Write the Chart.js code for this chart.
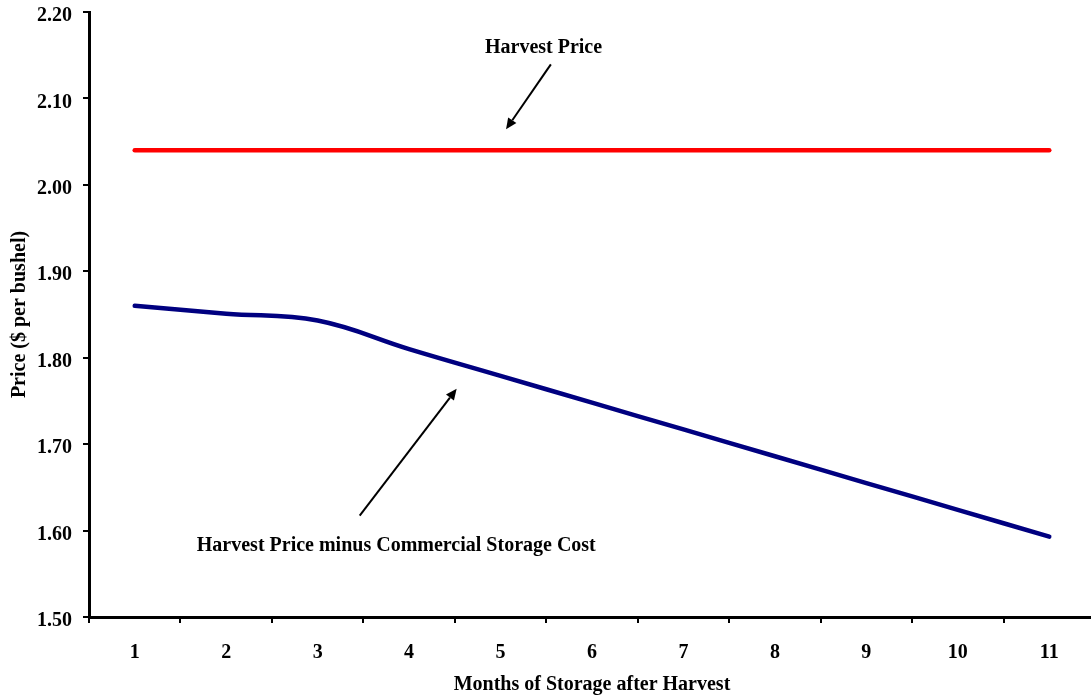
<!DOCTYPE html>
<html>
<head>
<meta charset="utf-8">
<script src="https://cdn.jsdelivr.net/npm/chart.js@4.4.1/dist/chart.umd.min.js"></script>
<style>
  html, body { margin: 0; padding: 0; background: #fff; overflow: hidden; }
  #wrap { position: relative; width: 1095px; height: 708px; margin-top: -11px; }
</style>
</head>
<body>
<div id="wrap"><canvas id="c"></canvas></div>
<script>
// ---- data ----
const months = ['1', '2', '3', '4', '5', '6', '7', '8', '9', '10', '11'];
const harvestPrice = [2.04, 2.04, 2.04, 2.04, 2.04, 2.04, 2.04, 2.04, 2.04, 2.04, 2.04];
const priceMinusStorage = [1.86, 1.851, 1.843, 1.81, 1.779, 1.748, 1.717, 1.686, 1.655, 1.624, 1.593];
const yTickValues = [1.5, 1.6, 1.7, 1.8, 1.9, 2.0, 2.1, 2.2];
const xTitle = 'Months of Storage after Harvest';
const yTitle = 'Price ($ per bushel)';

// annotation texts, anchored in data units (category index, price)
const noteLabels = ['Harvest Price', 'Harvest Price minus Commercial Storage Cost'];
const noteAnchors = [[4.47, 2.159], [2.86, 1.5826]];
const arrowFrom = [[4.55, 2.1394], [2.46, 1.6173]];
const arrowTo = [[4.06, 2.0643], [3.52, 1.764]];

const FONT = '"Liberation Serif", "Times New Roman", serif';

const notesPlugin = {
  id: 'notes',
  afterDatasetsDraw(chart) {
    const ctx = chart.ctx, xs = chart.scales.x, ys = chart.scales.y;
    ctx.save();
    ctx.fillStyle = '#000';
    ctx.strokeStyle = '#000';
    ctx.font = 'bold 20px ' + FONT;
    ctx.textAlign = 'center';
    ctx.textBaseline = 'middle';
    noteLabels.forEach((t, i) => {
      ctx.fillText(t, xs.getPixelForValue(noteAnchors[i][0]), ys.getPixelForValue(noteAnchors[i][1]));
    });
    arrowFrom.forEach((f, i) => {
      const x1 = xs.getPixelForValue(f[0]), y1 = ys.getPixelForValue(f[1]);
      const x2 = xs.getPixelForValue(arrowTo[i][0]), y2 = ys.getPixelForValue(arrowTo[i][1]);
      const ang = Math.atan2(y2 - y1, x2 - x1);
      const hl = 11, hw = 5;
      const bx = x2 - hl * Math.cos(ang), by = y2 - hl * Math.sin(ang);
      ctx.lineWidth = 2;
      ctx.beginPath();
      ctx.moveTo(x1, y1);
      ctx.lineTo(bx, by);
      ctx.stroke();
      ctx.beginPath();
      ctx.moveTo(x2, y2);
      ctx.lineTo(bx + hw * Math.sin(ang), by - hw * Math.cos(ang));
      ctx.lineTo(bx - hw * Math.sin(ang), by + hw * Math.cos(ang));
      ctx.closePath();
      ctx.fill();
    });
    ctx.restore();
  }
};

new Chart(document.getElementById('c'), {
  type: 'line',
  data: {
    labels: months,
    datasets: [
      {
        label: 'Harvest Price',
        data: harvestPrice,
        borderColor: '#FF0000',
        borderWidth: 4.5,
        borderCapStyle: 'round',
        pointRadius: 0,
        tension: 0
      },
      {
        label: 'Harvest Price minus Commercial Storage Cost',
        data: priceMinusStorage,
        borderColor: '#000080',
        borderWidth: 4.5,
        borderCapStyle: 'round',
        pointRadius: 0,
        tension: 0.4
      }
    ]
  },
  options: {
    responsive: true,
    maintainAspectRatio: false,
    animation: false,
    layout: { padding: { left: 4, top: 0, right: 0, bottom: 0 } },
    plugins: {
      legend: { display: false },
      tooltip: { enabled: false }
    },
    scales: {
      x: {
        offset: true,
        afterFit(scale) { scale.height = 80; },
        grid: {
          offset: true,
          drawOnChartArea: false,
          drawTicks: true,
          tickLength: 6,
          color: '#000',
          lineWidth: 2
        },
        border: { display: true, color: '#000', width: 3 },
        ticks: {
          color: '#000',
          padding: 18,
          maxRotation: 0,
          font: { family: FONT, size: 20, weight: 'bold' }
        },
        title: {
          display: true,
          text: xTitle,
          color: '#000',
          font: { family: FONT, size: 20, weight: 'bold' },
          padding: { top: 4, bottom: 0 }
        }
      },
      y: {
        min: 1.5,
        max: 2.2,
        afterFit(scale) { scale.width = 85; },
        afterBuildTicks(scale) {
          scale.ticks = yTickValues.map(v => ({ value: v }));
        },
        grid: {
          drawOnChartArea: false,
          drawTicks: true,
          tickLength: 6,
          color: '#000',
          lineWidth: 2
        },
        border: { display: true, color: '#000', width: 3 },
        ticks: {
          color: '#000',
          padding: 11,
          labelOffset: 4,
          callback: v => Number(v).toFixed(2),
          font: { family: FONT, size: 20, weight: 'bold' }
        },
        title: {
          display: true,
          text: yTitle,
          color: '#000',
          font: { family: FONT, size: 20, weight: 'bold' },
          padding: { top: 4, bottom: 4 }
        }
      }
    }
  },
  plugins: [notesPlugin]
});
</script>
</body>
</html>
